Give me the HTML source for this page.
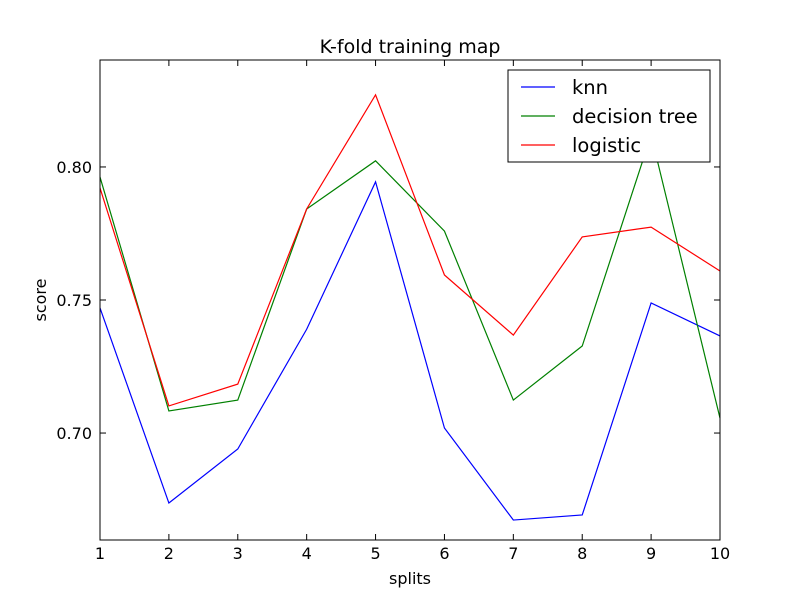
<!DOCTYPE html>
<html><head><meta charset="utf-8"><style>body{margin:0;background:#fff}svg{display:block;font-family:"DejaVu Sans","Liberation Sans",sans-serif}</style></head>
<body>
<svg id="chart" width="800" height="600">
<rect width="800" height="600" fill="#fff"/>
<text x="410" y="53" font-size="19" text-anchor="middle">K-fold training map</text>
<g id="plot"></g>
<text x="410" y="584" font-size="16" text-anchor="middle">splits</text>
<text x="46" y="300" font-size="16" text-anchor="middle" transform="rotate(-90 46 300)">score</text>
</svg>
<script>
const splits=[1,2,3,4,5,6,7,8,9,10];
const knn=[0.747,0.6737,0.694,0.739,0.7944,0.7019,0.6673,0.6692,0.7489,0.7365];
const tree=[0.7962,0.7083,0.7124,0.7842,0.8023,0.7759,0.7124,0.7327,0.812,0.7056];
const logistic=[0.7921,0.7102,0.7184,0.7842,0.8271,0.7594,0.7368,0.7737,0.7774,0.7609];
const xTicks=[1,2,3,4,5,6,7,8,9,10];
const yTicks=[0.70,0.75,0.80];
const yTickLabels=["0.70","0.75","0.80"];
const L=100,R=720,T=60,B=540,ymin=0.6598,ymax=0.8402;
const xs=v=>L+(v-1)/9*(R-L);
const ys=v=>B-(v-ymin)/(ymax-ymin)*(B-T);
const NS="http://www.w3.org/2000/svg";
const g=document.getElementById('plot');
function mk(t,a,p){const e=document.createElementNS(NS,t);for(const k in a)e.setAttribute(k,a[k]);(p||g).appendChild(e);return e;}
const series=[[knn,"#0000ff","knn"],[tree,"#008000","decision tree"],[logistic,"#ff0000","logistic"]];
series.forEach(s=>{
 const p=mk('polyline',{points:s[0].map((v,i)=>xs(splits[i])+','+ys(v)).join(' '),fill:'none',stroke:s[1],'stroke-width':1.2});
 
 
});
const fr=mk('rect',{x:L,y:T,width:R-L,height:B-T,fill:'none',stroke:'#000','stroke-width':1});


xTicks.forEach(v=>{
 const x=xs(v);
 mk('line',{x1:x,y1:B,x2:x,y2:B-6,stroke:'#000'});mk('line',{x1:x,y1:T,x2:x,y2:T+6,stroke:'#000'});
 const t=mk('text',{x:x,y:B+19,'font-size':16,'text-anchor':'middle'});t.textContent=v;
 
 
});
yTicks.forEach((v,i)=>{
 const y=ys(v);
 mk('line',{x1:L,y1:y,x2:L+6,y2:y,stroke:'#000'});mk('line',{x1:R,y1:y,x2:R-6,y2:y,stroke:'#000'});
 const t=mk('text',{x:L-8,y:y+6,'font-size':16,'text-anchor':'end'});t.textContent=yTickLabels[i];
 
 
});
const lg=mk('g',{});


mk('rect',{x:508,y:70,width:202,height:92,fill:'#fff',stroke:'#000'},lg);
series.forEach((s,i)=>{
 const y=87+i*29;
 mk('line',{x1:521,y1:y,x2:555,y2:y,stroke:s[1],'stroke-width':1.2},lg);
 const t=mk('text',{x:572,y:y+7,'font-size':19.5},lg);t.textContent=s[2];
 
 
});
</script>
</body></html>
